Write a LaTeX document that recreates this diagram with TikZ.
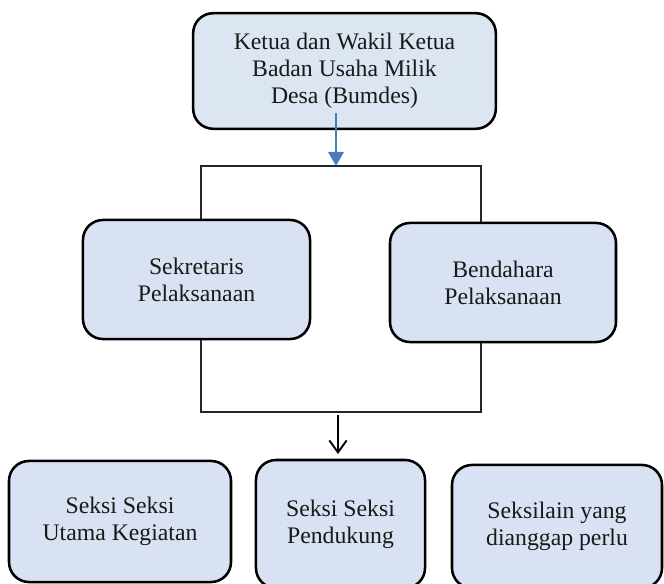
\documentclass[tikz,border=0pt]{standalone}
\usepackage{fontspec}
\setmainfont{Liberation Serif}
\usetikzlibrary{arrows.meta}
\definecolor{topfill}{RGB}{220,230,242}
\definecolor{boxfill}{RGB}{217,226,243}
\definecolor{arrowblue}{RGB}{74,126,187}
\tikzset{
  orgbox/.style={draw, line width=1.9pt, rounded corners=15pt, fill=boxfill,
    align=center, text=black!90, font=\fontsize{17.8}{20.3}\selectfont},
  link/.style={line width=0.8pt, black!85}
}
\begin{document}
\begin{tikzpicture}[x=0.75pt,y=-0.75pt]
\useasboundingbox (0,0) rectangle (664,584);
\clip (0,0) rectangle (664,584);
% kotak atas
\node[orgbox, fill=topfill, minimum width=227pt, minimum height=86.7pt] (ketua) at (344.5,71)
  {Ketua dan Wakil Ketua\\Badan Usaha Milik\\Desa (Bumdes)};
% baris tengah
\node[orgbox, minimum width=170.3pt, minimum height=89.3pt] (sekretaris) at (196.5,279.5)
  {Sekretaris\\Pelaksanaan};
\node[orgbox, minimum width=169.5pt, minimum height=89.3pt] (bendahara) at (503,282.5)
  {Bendahara\\Pelaksanaan};
% baris bawah
\foreach \n/\x/\y/\w/\h/\t in {utama/120/521.5/166.5/90.8/{Seksi Seksi\\Utama Kegiatan},
    pendukung/340.5/524/126.8/96/{Seksi Seksi\\Pendukung},
    lain/557/526.5/157.5/92.3/{Seksilain yang\\dianggap perlu}}
  \node[orgbox, minimum width=\w pt, minimum height=\h pt] (\n) at (\x,\y) {\t};
% garis penghubung
\coordinate (tl) at (201,166); \coordinate (tr) at (481,166);
\coordinate (bl) at (201,412); \coordinate (br) at (481,412);
\draw[link] (sekretaris.north -| tl) -- (tl) -- (tr) -- (bendahara.north -| tr);
\draw[link] (sekretaris.south -| bl) -- (bl) -- (br) -- (bendahara.south -| br);
\coordinate (a1) at (336,113); \coordinate (a2) at (338,415);
\draw[arrowblue, line width=1.5pt, -{Triangle[length=10.5pt,width=11.5pt]}] (a1) -- (a1 |- tl);
\draw[line width=1.4pt, -{Straight Barb[length=9pt,width=13pt]}] (a2) -- (338,454);
\end{tikzpicture}
\end{document}
